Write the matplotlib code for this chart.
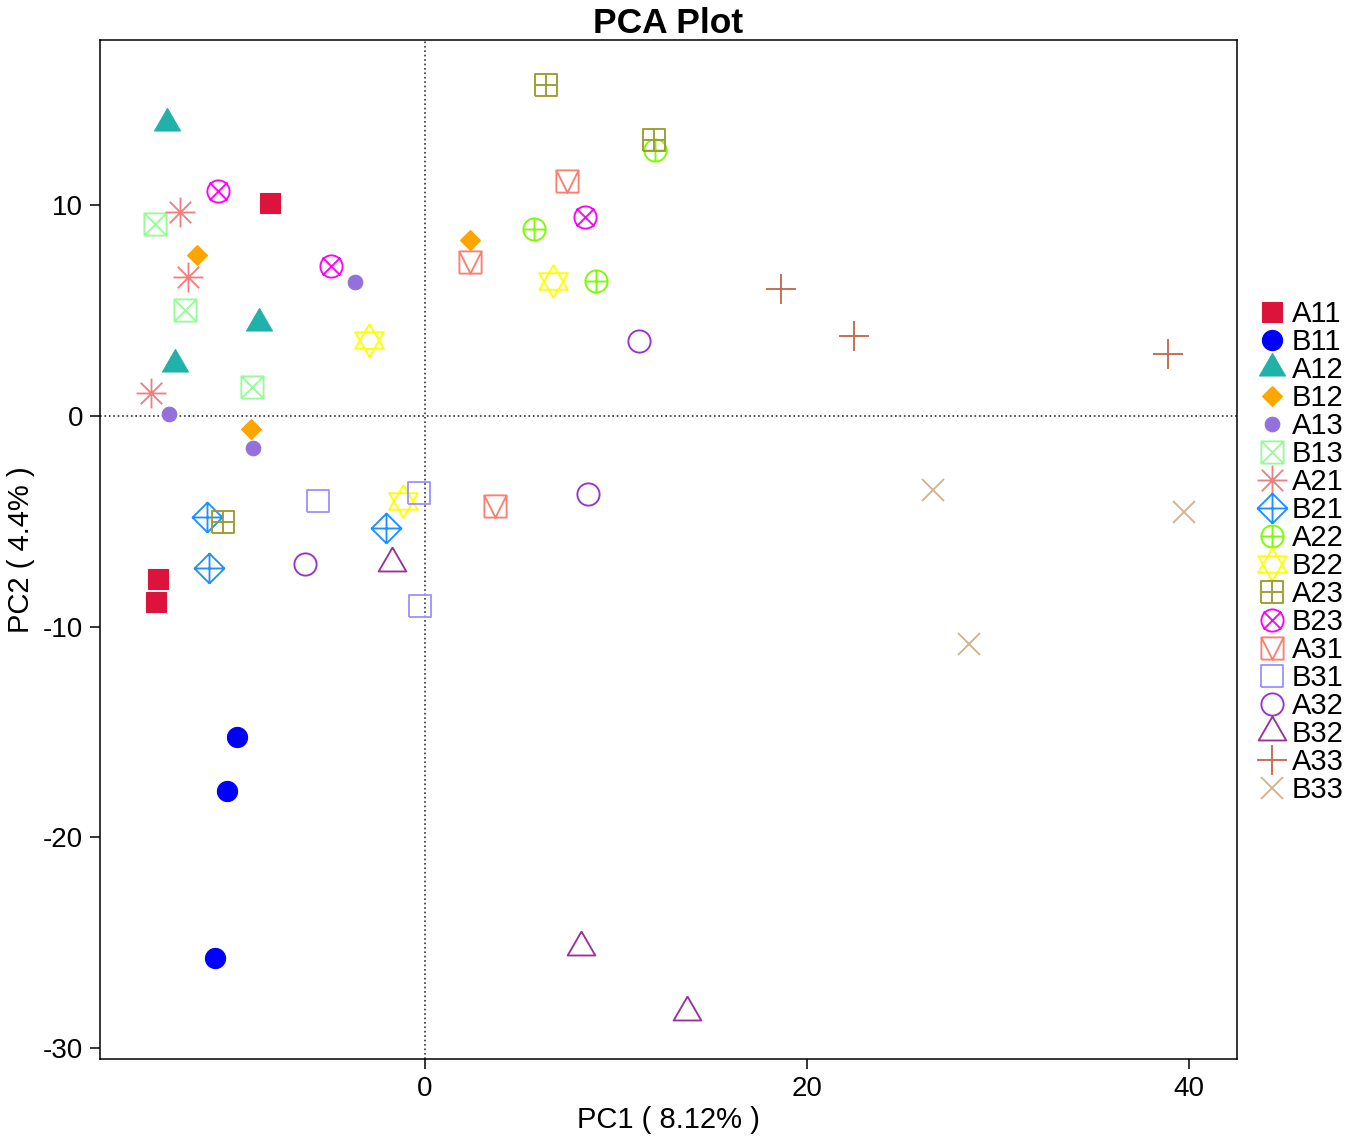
import matplotlib
matplotlib.use("Agg")
import numpy as np
import matplotlib.pyplot as plt
from matplotlib.path import Path

plt.rcParams['font.family'] = ['Liberation Sans', 'DejaVu Sans']
plt.rcParams['axes.unicode_minus'] = False

# sample groups, in legend order
groups = ['A11', 'B11', 'A12', 'B12', 'A13', 'B13', 'A21', 'B21', 'A22',
          'B22', 'A23', 'B23', 'A31', 'B31', 'A32', 'B32', 'A33', 'B33']

colors = ['#DC143C', '#0000FF', '#20B2AA', '#FFA500', '#9370DB', '#98FB98',
          '#F08080', '#1E90FF', '#7CFC00', '#FFFF00', '#9C9C2E', '#FF00FF',
          '#FA8072', '#9F94FF', '#9932CC', '#993399', '#C46A4E', '#D2B48C']

# PC scores, three replicates per group
pc1 = [[-8.12, -13.94, -14.07],
       [-9.84, -10.37, -10.99],
       [-13.5, -8.67, -13.09],
       [-11.95, -9.11, 2.36],
       [-13.37, -9.0, -3.65],
       [-14.14, -12.57, -9.04],
       [-12.83, -12.39, -14.31],
       [-11.39, -11.29, -2.01],
       [5.72, 8.97, 12.04],
       [-2.91, 6.72, -1.13],
       [6.34, 11.97, -10.55],
       [-10.82, -4.90, 8.36],
       [7.43, 2.37, 3.66],
       [-5.59, -0.31, -0.26],
       [11.19, 8.53, -6.28],
       [-1.73, 8.17, 13.72],
       [18.62, 22.48, 38.90],
       [26.61, 28.50, 39.74]]

pc2 = [[10.08, -7.77, -8.83],
       [-15.26, -17.82, -25.73],
       [13.85, 4.4, 2.42],
       [7.63, -0.62, 8.31],
       [0.08, -1.52, 6.32],
       [9.08, 4.98, 1.34],
       [9.64, 6.57, 1.07],
       [-4.80, -7.24, -5.32],
       [8.83, 6.37, 12.57],
       [3.57, 6.37, -4.03],
       [15.65, 13.08, -5.04],
       [10.63, 7.08, 9.40],
       [11.10, 7.27, -4.31],
       [-4.03, -3.66, -9.04],
       [3.52, -3.70, -7.03],
       [-7.0, -25.2, -28.28],
       [6.02, 3.76, 2.92],
       [-3.51, -10.81, -4.56]]


def lines(*segs):
    verts, codes = [], []
    for seg in segs:
        verts += seg
        codes += [Path.MOVETO] + [Path.LINETO] * (len(seg) - 1)
    return Path(verts, codes)


def compound(*paths):
    return Path.make_compound_path(*paths)


circle = Path.unit_circle()
square = lines([(-1, -1), (1, -1), (1, 1), (-1, 1), (-1, -1)])
diamond = lines([(0, -1), (1, 0), (0, 1), (-1, 0), (0, -1)])
plus = lines([(-1, 0), (1, 0)], [(0, -1), (0, 1)])
s3 = np.sqrt(3) / 2
tri_up = lines([(0, 1), (s3, -0.5), (-s3, -0.5), (0, 1)])
tri_dn = lines([(0, -1), (s3, 0.5), (-s3, 0.5), (0, -1)])
tri_fill = Path([(0, 1), (s3, -0.5), (-s3, -0.5), (0, 1)], closed=True)
r = 0.72
asterisk = lines([(-1, 0), (1, 0)], [(0, -1), (0, 1)], [(-r, -r), (r, r)], [(-r, r), (r, -r)])

markers = [
    ('s', 15, True),
    ('o', 14.5, True),
    (tri_fill, 21.6, True),
    ('D', 10, True),
    ('o', 10.5, True),
    (compound(square, lines([(-1, -1), (1, 1)], [(-1, 1), (1, -1)])), 16, False),
    (asterisk, 21.5, False),
    (compound(diamond, plus), 21.5, False),
    (compound(circle, plus), 16, False),
    (compound(tri_up, tri_dn), 23.8, False),
    (compound(square, plus), 16, False),
    (compound(circle, lines([(-0.8, -0.8), (0.8, 0.8)], [(-0.8, 0.8), (0.8, -0.8)])), 16, False),
    (compound(square, lines([(-1, 1), (0, -1), (1, 1)])), 16, False),
    (square, 16, False),
    ('o', 16, False),
    (tri_up, 23, False),
    ('+', 21.5, False),
    ('x', 16, False),
]

fig = plt.figure(figsize=(13.5, 11.42), dpi=100)
ax = fig.add_axes([100 / 1350, 1 - 1059 / 1142, 1137 / 1350, 1019 / 1142])

ax.axhline(0, color='#333333', linestyle=':', linewidth=1.2, zorder=1)
ax.axvline(0, color='#333333', linestyle=':', linewidth=1.2, zorder=1)

for g, c, xs, ys, (m, ms, filled) in zip(groups, colors, pc1, pc2, markers):
    if filled:
        ax.plot(xs, ys, linestyle='none', marker=m, markersize=ms,
                markerfacecolor=c, markeredgecolor=c, markeredgewidth=0.8,
                label=g, zorder=3)
    else:
        ax.plot(xs, ys, linestyle='none', marker=m, markersize=ms,
                markerfacecolor='none', markeredgecolor=c, markeredgewidth=1.35,
                label=g, zorder=3)

ax.set_xlim(-17.0, 42.5)
ax.set_ylim(-30.5, 17.8)
ax.set_xticks([0, 20, 40])
ax.set_yticks([-30, -20, -10, 0, 10])
ax.tick_params(direction='out', length=7, width=1.1, labelsize=20, pad=5)
for sp in ax.spines.values():
    sp.set_linewidth(1.1)

ax.set_title('PCA Plot', fontsize=25.5, fontweight='bold', pad=4)
ax.set_xlabel('PC1 ( 8.12% )', fontsize=21, labelpad=3)
ax.set_ylabel('PC2 ( 4.4% )', fontsize=21, labelpad=6)

ax.legend(loc='center left', bbox_to_anchor=(1258 / 1350, 1 - 552 / 1142),
          bbox_transform=fig.transFigure, frameon=False, numpoints=1,
          fontsize=21, labelspacing=0.0, handlelength=0.95, handletextpad=0.2,
          borderpad=0, borderaxespad=0)

fig.savefig('out.png', dpi=100)
